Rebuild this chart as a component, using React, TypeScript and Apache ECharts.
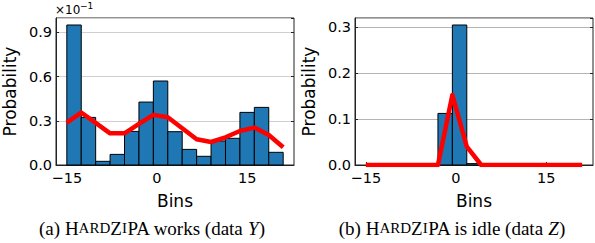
import React, { useEffect, useRef } from "react";
import * as echarts from "echarts";

const binEdges = [-15, -12.6, -10.2, -7.8, -5.4, -3, -0.6, 1.8, 4.2, 6.6, 9, 11.4, 13.8, 16.2, 18.6, 21];
// left panel (data Y), values in units of 1e-1
const histY = [0.95, 0.323, 0.025, 0.072, 0.228, 0.427, 0.57, 0.226, 0.106, 0.059, 0.163, 0.181, 0.357, 0.391, 0.086];
const lineY = [0.288, 0.356, 0.286, 0.215, 0.215, 0.279, 0.34, 0.324, 0.249, 0.175, 0.156, 0.188, 0.231, 0.254, 0.204, 0.12];
// right panel (data Z)
const histZ = [0, 0, 0, 0, 0, 0.112, 0.304, 0.003, 0, 0, 0, 0, 0, 0, 0];
const lineZ = [0, 0, 0, 0, 0, 0, 0.152, 0.04, 0, 0, 0, 0, 0, 0, 0, 0];
const xTicks = [-15, 0, 15];
const captionA = ["(a) ", "H", "ARD", "Z", "I", "PA works (data ", "Y", ")"];
const captionB = ["(b) ", "H", "ARD", "Z", "I", "PA is idle (data ", "Z", ")"];

const FONT = "DejaVu Sans";
const BLUE = "#1f77b4";
const AXIS = "#222222";

function fmtNum(v: number, d: number) {
  return v.toFixed(d).replace("-", "\u2212");
}

function histData(vals: number[]) {
  return vals.map((v, i) => [binEdges[i], binEdges[i + 1], v]);
}
function lineData(vals: number[]) {
  return vals.map((v, i) => [binEdges[i], v]);
}

function renderBar(params: any, api: any) {
  const x0 = api.value(0);
  const x1 = api.value(1);
  const y = api.value(2);
  if (!(y > 0)) return null;
  const p0 = api.coord([x0, y]);
  const p1 = api.coord([x1, 0]);
  return {
    type: "rect",
    shape: { x: p0[0], y: p0[1], width: p1[0] - p0[0], height: p1[1] - p0[1] },
    style: { fill: BLUE, stroke: "#000", lineWidth: 1 },
  };
}

function caption(parts: string[], x: number) {
  const keys = ["n", "n", "s", "n", "s", "n", "i", "n"];
  const text = parts.map((p, i) => `{${keys[i]}|${p}}`).join("");
  return {
    type: "text",
    x,
    y: 228,
    style: {
      text,
      align: "center",
      verticalAlign: "middle",
      fill: "#000",
      rich: {
        n: { fontFamily: "Liberation Serif", fontSize: 19, fill: "#000" },
        s: { fontFamily: "Liberation Serif", fontSize: 15, fill: "#000" },
        i: { fontFamily: "Liberation Serif", fontSize: 19, fontStyle: "italic", fill: "#000" },
      },
    },
  };
}

export default function App() {
  const ref = useRef<HTMLDivElement>(null);
  useEffect(() => {
    if (!ref.current) return;
    const chart = echarts.init(ref.current, null, { renderer: "svg" });
    const xAxisBase = (gridIndex: number) => ({
      type: "value",
      gridIndex,
      min: -16.8,
      max: 22.8,
      name: "Bins",
      nameLocation: "middle",
      nameGap: 27,
      nameTextStyle: { fontFamily: FONT, fontSize: 17, color: "#000" },
      axisLine: { show: true, onZero: false, lineStyle: { color: AXIS, width: 1 } },
      axisTick: { show: true, inside: true, length: 3, customValues: xTicks, lineStyle: { color: AXIS } },
      axisLabel: {
        customValues: xTicks,
        formatter: (v: number) => fmtNum(v, 0),
        fontFamily: FONT,
        fontSize: 14.5,
        color: "#000",
        margin: 5,
      },
      splitLine: { show: false },
    });
    const yAxisBase = (gridIndex: number, max: number, interval: number, gridColor: string) => ({
      type: "value",
      gridIndex,
      position: "left",
      min: 0,
      max,
      interval,
      name: "Probability",
      nameLocation: "middle",
      nameGap: 38,
      nameTextStyle: { fontFamily: FONT, fontSize: 17, color: "#000" },
      axisLine: { show: true, onZero: false, lineStyle: { color: AXIS, width: 1 } },
      axisTick: { show: true, inside: true, length: 3, lineStyle: { color: AXIS } },
      axisLabel: {
        showMaxLabel: false,
        formatter: (v: number) => (Math.abs(v / interval - Math.round(v / interval)) < 1e-6 ? fmtNum(v, 1) : ""),
        fontFamily: FONT,
        fontSize: 14.5,
        color: "#000",
        margin: 4,
      },
      splitLine: { show: true, lineStyle: { color: gridColor, width: 1 } },
    });
    const yAxisRight = (gridIndex: number, max: number, interval: number) => ({
      type: "value",
      gridIndex,
      position: "right",
      min: 0,
      max,
      interval,
      axisLine: { show: false, onZero: false },
      axisTick: { show: true, inside: true, length: 3, lineStyle: { color: AXIS } },
      axisLabel: { show: false },
      splitLine: { show: false },
    });
    chart.setOption({
      animation: false,
      grid: [
        { left: 54, top: 18, width: 240, height: 147, show: true, borderColor: AXIS, borderWidth: 1, containLabel: false },
        { left: 355, top: 18, width: 238, height: 147, show: true, borderColor: AXIS, borderWidth: 1, containLabel: false },
      ],
      xAxis: [xAxisBase(0), xAxisBase(1)],
      yAxis: [
        yAxisBase(0, 0.9975, 0.3, "#cfcfcf"),
        yAxisBase(1, 0.3192, 0.1, "#b5b5b5"),
        yAxisRight(0, 0.9975, 0.3),
        yAxisRight(1, 0.3192, 0.1),
      ],
      series: [
        {
          type: "custom",
          xAxisIndex: 0,
          yAxisIndex: 0,
          renderItem: renderBar,
          encode: { x: [0, 1], y: 2 },
          data: histData(histY),
          z: 2,
        },
        {
          type: "line",
          xAxisIndex: 0,
          yAxisIndex: 0,
          data: lineData(lineY),
          showSymbol: false,
          lineStyle: { color: "#ff0000", width: 4.5, join: "round" },
          z: 3,
        },
        {
          type: "custom",
          xAxisIndex: 1,
          yAxisIndex: 1,
          renderItem: renderBar,
          encode: { x: [0, 1], y: 2 },
          data: histData(histZ),
          z: 2,
        },
        {
          type: "line",
          xAxisIndex: 1,
          yAxisIndex: 1,
          data: lineData(lineZ),
          showSymbol: false,
          lineStyle: { color: "#ff0000", width: 4.5, join: "round" },
          z: 3,
        },
      ],
      graphic: [
        {
          type: "text",
          x: 55,
          y: 16,
          style: { text: "\u00d710", fontFamily: FONT, fontSize: 12, fill: "#000", verticalAlign: "bottom" },
        },
        {
          type: "text",
          x: 80,
          y: 10,
          style: { text: "\u22121", fontFamily: FONT, fontSize: 9, fill: "#000", verticalAlign: "bottom" },
        },
        caption(captionA, 152),
        caption(captionB, 452),
      ],
    });
    return () => chart.dispose();
  }, []);
  return (
    <div
      ref={ref}
      style={{ position: "absolute", left: 0, top: 0, width: 595, height: 243 }}
    />
  );
}
